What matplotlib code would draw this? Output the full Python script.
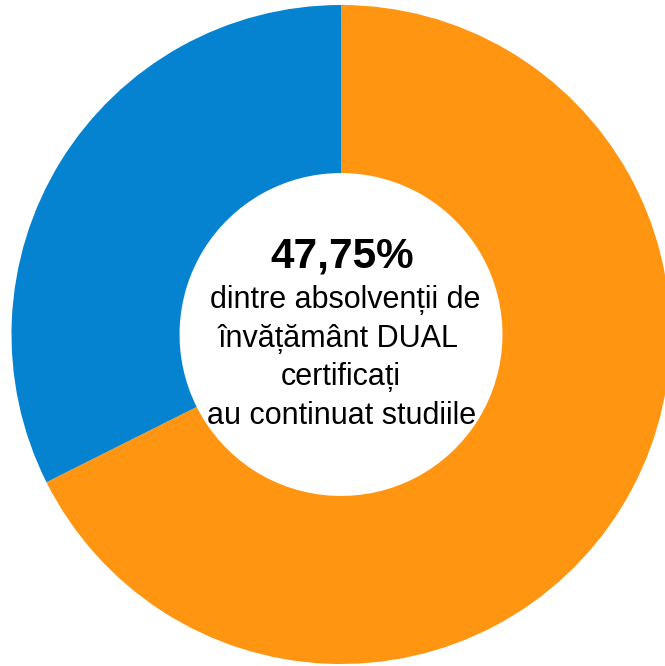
import matplotlib.pyplot as plt

# slices (orange from 12 o'clock clockwise, then blue)
labels = ["continuat", "altele"]
values = [67.6, 32.4]
colors = ["#FF9510", "#0582D0"]

big_text = "47,75%"
small_lines = ["dintre absolvenții de", "învățământ DUAL", "certificați", "au continuat studiile"]

plt.rcParams['font.family'] = ['Liberation Sans', 'DejaVu Sans']

fig = plt.figure(figsize=(6.65, 6.66), dpi=100)
ax = fig.add_axes([0, 0, 1, 1])
ax.pie(values, colors=colors, startangle=90, counterclock=False,
       radius=1.0, wedgeprops=dict(width=0.51, linewidth=0))

R = 329.5
cx, cy = 341.0, 334.5
ax.set_xlim(-cx / R, (665 - cx) / R)
ax.set_ylim(-(666 - cy) / R, cy / R)
ax.set_aspect('auto')
ax.axis('off')

def yy(p):
    return (cy - p) / R

# line centres drift a little in the original
x_off = [345, 338, 341, 342]
ax.text((342 - cx) / R, yy(267), big_text, ha='center', va='baseline', fontsize=30.4, fontweight='bold')
for i, line in enumerate(small_lines):
    ax.text((x_off[i] - cx) / R, yy(308 + i * 38.5), line, ha='center', va='baseline', fontsize=22)

fig.savefig("out.png", dpi=100)
